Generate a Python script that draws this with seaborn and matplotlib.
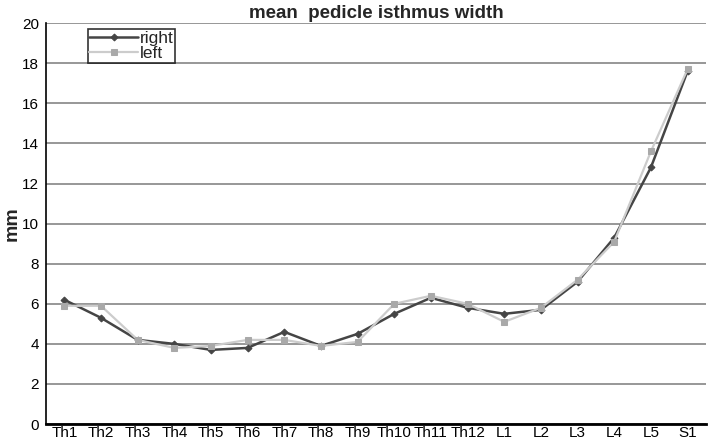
import pandas as pd
import matplotlib
matplotlib.use("Agg")
import matplotlib.pyplot as plt
import seaborn as sns

# ── Data ────────────────────────────────────────────────────────────────────
levels = ["Th1", "Th2", "Th3", "Th4", "Th5", "Th6", "Th7", "Th8", "Th9",
          "Th10", "Th11", "Th12", "L1", "L2", "L3", "L4", "L5", "S1"]
right = [6.2, 5.3, 4.2, 4.0, 3.7, 3.8, 4.6, 3.9, 4.5,
         5.5, 6.3, 5.8, 5.5, 5.7, 7.1, 9.3, 12.8, 17.6]
left = [5.9, 5.9, 4.2, 3.8, 3.9, 4.2, 4.2, 3.9, 4.1,
        6.0, 6.4, 6.0, 5.1, 5.8, 7.2, 9.1, 13.6, 17.7]
y_ticks = list(range(0, 21, 2))

df = pd.DataFrame({"level": levels * 2,
                   "width": right + left,
                   "side": ["right"] * len(levels) + ["left"] * len(levels)})

sns.set_style("white")
plt.rcParams["font.family"] = ["Liberation Sans", "DejaVu Sans"]

fig = plt.figure(figsize=(7.08, 4.45), dpi=100)
ax = fig.add_axes([0.065, 0.047, 0.932, 0.901])

styles = {"right": dict(color="#454545", marker="D", ms=3.5, lw=1.8, mfc="#454545"),
          "left": dict(color="#cccccc", marker="s", ms=5, lw=1.6, mfc="#a9a9a9")}

for side in ["right", "left"]:
    st = styles[side]
    sns.lineplot(data=df[df["side"] == side], x="level", y="width", ax=ax,
                 color=st["color"], marker=st["marker"], markersize=st["ms"],
                 linewidth=st["lw"], markerfacecolor=st["mfc"],
                 markeredgecolor=st["mfc"], label=side, sort=False)

ax.set_xlim(-0.5, len(levels) - 0.5)
ax.set_ylim(0, 20)
ax.set_yticks(y_ticks)
ax.yaxis.grid(True, color="#8f8f8f", linewidth=1.3)
ax.set_axisbelow(True)
for s in ["top", "right"]:
    ax.spines[s].set_visible(False)
ax.spines["left"].set_color("black")
ax.spines["left"].set_linewidth(1.2)
ax.spines["bottom"].set_color("black")
ax.spines["bottom"].set_linewidth(2)
ax.tick_params(axis="both", length=0, labelsize=11, colors="black", pad=5)
ax.tick_params(axis="x", pad=1.5)

ax.set_xlabel("")
ax.set_ylabel("mm", fontsize=14, fontweight="bold")
ax.yaxis.set_label_coords(-0.038, 0.5)
ax.set_title("mean  pedicle isthmus width", fontsize=13.5, fontweight="bold", pad=4)

leg = ax.legend(loc="upper left", bbox_to_anchor=(0.063, 0.985), frameon=True,
                fancybox=False, fontsize=12.5, borderpad=0.1, labelspacing=0.0,
                handlelength=2.8, handletextpad=0.1, borderaxespad=0)
leg.get_frame().set_edgecolor("black")
leg.get_frame().set_linewidth(1.2)

fig.savefig("out.png", dpi=100)
